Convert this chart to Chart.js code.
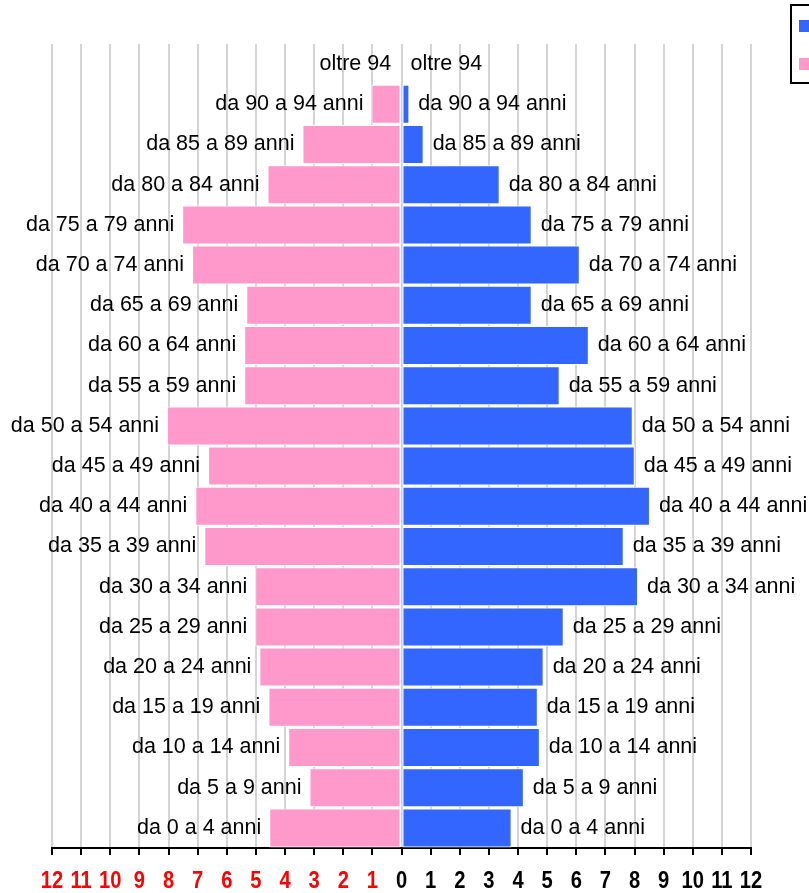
<!DOCTYPE html>
<html>
<head>
<meta charset="utf-8">
<script src="https://cdn.jsdelivr.net/npm/chart.js@4"></script>
<style>
  html, body { margin: 0; padding: 0; background: #fff; overflow: hidden; }
  #wrap { width: 809px; height: 893px; position: relative; }
</style>
</head>
<body>
<div id="wrap"><canvas id="pyramidChart"></canvas></div>
<script>
const ageGroups = [
  'oltre 94', 'da 90 a 94 anni', 'da 85 a 89 anni', 'da 80 a 84 anni', 'da 75 a 79 anni',
  'da 70 a 74 anni', 'da 65 a 69 anni', 'da 60 a 64 anni', 'da 55 a 59 anni', 'da 50 a 54 anni',
  'da 45 a 49 anni', 'da 40 a 44 anni', 'da 35 a 39 anni', 'da 30 a 34 anni', 'da 25 a 29 anni',
  'da 20 a 24 anni', 'da 15 a 19 anni', 'da 10 a 14 anni', 'da 5 a 9 anni', 'da 0 a 4 anni'
];

// percent of population
const maleValues = [0, 0.27, 0.76, 3.37, 4.47, 6.12, 4.47, 6.43, 5.43, 7.94,
  8.01, 8.53, 7.63, 8.12, 5.57, 4.88, 4.68, 4.75, 4.2, 3.78];
const femaleValues = [0.08, 1.03, 3.4, 4.6, 7.53, 7.19, 5.33, 5.4, 5.4, 8.05,
  6.64, 7.08, 6.77, 5.02, 5.02, 4.88, 4.57, 3.89, 3.16, 4.54];

const axisTicks = [-12, -11, -10, -9, -8, -7, -6, -5, -4, -3, -2, -1, 0, 1, 2, 3, 4, 5, 6, 7, 8, 9, 10, 11, 12];

const MALE_COLOR = '#3366ff';
const FEMALE_COLOR = '#ff99cc';
const FONT = "'Liberation Sans', Arial, Helvetica, sans-serif";

// writes the age group next to the end of every bar
const barLabels = {
  id: 'barLabels',
  afterDatasetsDraw(chart) {
    const ctx = chart.ctx;
    ctx.save();
    ctx.font = '21.5px ' + FONT;
    ctx.fillStyle = '#000';
    ctx.textBaseline = 'middle';
    chart.data.datasets.forEach((ds, di) => {
      const meta = chart.getDatasetMeta(di);
      meta.data.forEach((bar, i) => {
        const label = chart.data.labels[i];
        if (ds.data[i] < 0) {
          ctx.textAlign = 'right';
          ctx.fillText(label, bar.x - 8, bar.y);
        } else {
          ctx.textAlign = 'left';
          ctx.fillText(label, bar.x + 9, bar.y);
        }
      });
    });
    ctx.restore();
  }
};

// tick labels in a squeezed bold face (no narrow font installed)
const narrowTicks = {
  id: 'narrowTicks',
  afterDraw(chart) {
    const scale = chart.scales.x;
    const ctx = chart.ctx;
    ctx.save();
    ctx.font = 'bold 24px ' + FONT;
    ctx.textAlign = 'center';
    ctx.textBaseline = 'alphabetic';
    scale.ticks.forEach((t) => {
      const x = scale.getPixelForValue(t.value);
      ctx.save();
      ctx.translate(x, 888);
      ctx.scale(0.84, 1);
      ctx.fillStyle = t.value < 0 ? '#ff0000' : '#000';
      ctx.fillText(String(Math.abs(t.value)), 0, 0);
      ctx.restore();
    });
    ctx.restore();
  }
};

// the legend box, cut off by the right edge like in the original
const boxLegend = {
  id: 'boxLegend',
  afterDraw(chart) {
    const ctx = chart.ctx;
    ctx.save();
    ctx.strokeStyle = '#000';
    ctx.lineWidth = 2;
    ctx.strokeRect(791, 5, 120, 78);
    ctx.fillStyle = MALE_COLOR;
    ctx.fillRect(799, 20, 11, 12);
    ctx.fillStyle = FEMALE_COLOR;
    ctx.fillRect(799, 58, 11, 12);
    ctx.restore();
  }
};

const ctx = document.getElementById('pyramidChart').getContext('2d');
new Chart(ctx, {
  type: 'bar',
  data: {
    labels: ageGroups,
    datasets: [
      {
        label: 'Maschi',
        data: maleValues,
        backgroundColor: MALE_COLOR,
        borderColor: '#fff',
        borderWidth: 1,
        borderSkipped: false,
      },
      {
        label: 'Femmine',
        data: femaleValues.map((v) => -v),
        backgroundColor: FEMALE_COLOR,
        borderColor: '#fff',
        borderWidth: 1,
        borderSkipped: false,
      },
    ],
  },
  options: {
    indexAxis: 'y',
    responsive: true,
    maintainAspectRatio: false,
    animation: false,
    layout: { padding: { left: 52, right: 58, top: 44, bottom: 0 } },
    datasets: { bar: { barPercentage: 1, categoryPercentage: 0.97 } },
    scales: {
      y: {
        stacked: true,
        display: false,
      },
      x: {
        stacked: true,
        min: -12,
        max: 12,
        afterBuildTicks: (scale) => {
          scale.ticks = axisTicks.map((v) => ({ value: v }));
        },
        afterFit: (scale) => {
          scale.height = 45;
        },
        grid: {
          color: '#d4d4d4',
          lineWidth: 2,
          tickColor: '#000',
          tickLength: 7,
          tickWidth: 2,
        },
        border: { color: '#000', width: 2 },
        ticks: {
          display: false,
          autoSkip: false,
        },
      },
    },
    plugins: {
      legend: { display: false },
      tooltip: { enabled: false },
    },
  },
  plugins: [barLabels, narrowTicks, boxLegend],
});
</script>
</body>
</html>
